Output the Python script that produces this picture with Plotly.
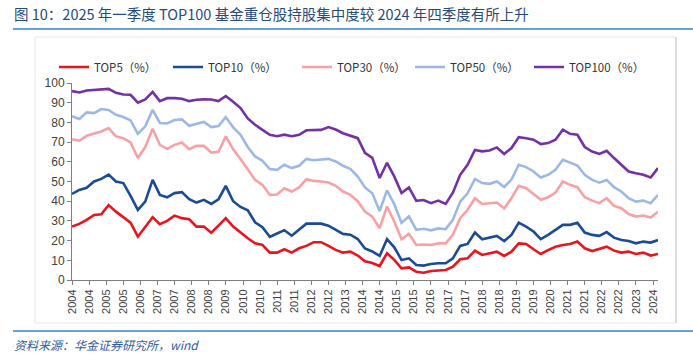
import plotly.graph_objects as go
import pandas as pd

# ---------------- data (quarterly, 2004Q1 - 2024Q1) ----------------
START = "2004-03-31"
N_POINTS = 81

TOP5 = [27.1, 28.5, 30.5, 33.0, 33.4, 38.0, 34.7, 31.7, 29.1, 22.0, 27.1, 31.9, 28.3, 30.0, 32.7, 31.4, 30.8, 27.1, 27.1, 24.0, 27.6,
        31.4, 27.1, 24.0, 21.2, 18.6, 17.8, 13.9, 13.9, 15.6, 13.9, 16.1, 17.3, 19.2, 19.2, 17.3, 15.3, 13.9, 14.4, 12.4, 9.5, 8.6,
        7.1, 13.6, 10.2, 5.9, 6.4, 4.2, 3.7, 4.6, 4.7, 5.1, 6.8, 10.5, 11.0, 14.9, 12.7, 13.6, 14.4, 12.2, 14.4, 18.6,
        18.3, 15.6, 13.2, 15.2, 16.9, 17.8, 18.3, 19.5, 16.1, 14.7, 15.6, 16.9, 14.9, 13.9, 14.4, 13.2, 13.9, 12.4, 13.2]

TOP10 = [43.7, 45.7, 46.8, 50.0, 51.3, 53.5, 50.0, 49.2, 42.7, 35.6, 39.8, 50.8, 43.2, 42.0, 44.1, 44.6, 41.0, 39.3, 40.7, 38.6, 41.0,
         47.8, 40.0, 37.1, 35.4, 29.3, 26.8, 21.9, 23.6, 25.3, 22.5, 25.6, 28.6, 28.6, 28.6, 27.6, 25.6, 23.4, 23.0, 20.8, 16.0, 14.5,
         12.2, 20.7, 16.6, 10.2, 11.0, 7.6, 7.3, 8.1, 8.5, 8.5, 11.0, 17.3, 18.3, 24.1, 20.7, 21.7, 22.4, 19.8, 22.9, 29.1,
         27.1, 24.6, 20.7, 22.9, 25.4, 28.0, 28.0, 29.1, 24.1, 22.9, 22.4, 24.3, 21.5, 20.3, 19.8, 18.6, 19.5, 19.0, 20.3]

TOP30 = [71.5, 70.7, 73.2, 74.2, 75.4, 77.1, 72.9, 72.0, 69.8, 61.9, 67.5, 76.8, 68.6, 66.6, 68.6, 69.8, 66.4, 68.1, 68.1, 64.7,
         65.1, 72.9, 66.4, 61.4, 55.9, 50.8, 48.3, 43.2, 43.4, 46.6, 44.9, 47.0, 51.2, 50.3, 50.0, 49.5, 47.8, 44.9, 43.2,
         40.0, 34.7, 32.2, 26.3, 37.3, 29.7, 20.7, 23.4, 17.8, 18.0, 17.8, 18.6, 18.6, 22.9, 31.4, 35.6, 41.5, 38.6, 39.0, 39.3,
         36.4, 41.5, 47.8,
         46.6, 43.7, 40.7, 42.0, 44.4, 50.0, 48.3, 47.1, 42.0, 40.3, 39.0, 41.5, 37.6, 36.4, 33.5, 32.2, 32.7, 31.7, 34.7]

TOP50 = [83.1, 81.7, 85.1, 84.7, 86.8, 86.3, 83.9, 82.7, 81.0, 74.2, 78.0, 86.4, 79.7, 79.5, 81.2, 81.5, 78.3, 79.2, 80.2, 77.6,
         78.1, 82.7, 77.5, 73.7, 67.5, 62.7, 60.5, 56.3, 55.9, 58.5, 56.8, 58.0, 61.5, 60.8, 61.0, 61.5, 60.2, 58.0, 56.4,
         52.5, 47.0, 44.0, 35.0, 45.5, 38.5, 29.0, 32.3, 25.5, 26.0, 25.2, 26.2, 25.8, 30.5, 39.8, 44.0, 51.3, 49.2, 48.8, 50.0,
         47.2, 51.0, 58.5,
         57.3, 55.1, 52.0, 53.4, 55.9, 61.0, 59.6, 58.1, 53.4, 50.8, 49.4, 50.8, 47.1, 44.9, 41.5, 39.8, 40.3, 39.0, 43.2]

TOP100 = [95.9, 95.2, 96.2, 96.5, 97.0, 97.0, 95.0, 94.2, 94.0, 90.0, 91.7, 95.5, 90.8, 92.3, 92.3, 92.0, 90.8, 91.5, 91.7, 91.6,
          90.8, 93.4, 90.5, 87.3, 82.0, 78.8, 76.2, 73.7, 73.0, 73.8, 73.0, 73.7, 76.0, 76.0, 76.2, 77.6, 76.4, 74.5, 73.2,
          72.0, 64.5, 62.0, 51.8, 59.5, 52.6, 44.2, 47.0, 40.2, 40.6, 39.0, 40.3, 38.6, 44.3, 53.4, 58.5, 66.0, 65.3, 65.7, 67.3,
          64.0, 67.0, 72.5, 72.0, 71.2, 69.0, 69.5, 71.2, 76.3, 74.2, 73.7, 67.5, 65.2, 64.0, 65.6, 61.9, 58.5, 55.1, 54.2, 53.4,
          52.0, 56.8]

SERIES_NAMES = ["TOP5（%）", "TOP10（%）", "TOP30（%）", "TOP50（%）", "TOP100（%）"]
SERIES_COLORS = ["#E8141E", "#1C4B95", "#F8A1A4", "#9DB8E5", "#7431A3"]

TICK_LABELS = ["2004", "2004", "2005", "2005", "2006", "2007", "2007", "2008", "2008", "2009",
               "2010", "2010", "2011", "2011", "2012", "2012", "2013", "2014", "2014", "2015",
               "2015", "2016", "2017", "2017", "2018", "2018", "2019", "2019", "2020", "2021",
               "2021", "2022", "2022", "2023", "2024"]
TICK_STEP_MONTHS = 7

TITLE = "图 10：2025 年一季度 TOP100 基金重仓股持股集中度较 2024 年四季度有所上升"
SOURCE = "资料来源：华金证券研究所，wind"

# ---------------- build ----------------
start = pd.Timestamp(START)
dates = [start + pd.offsets.QuarterEnd(i) for i in range(N_POINTS)]
tickvals = [start + pd.DateOffset(months=TICK_STEP_MONTHS * k) for k in range(len(TICK_LABELS))]

W, H = 693, 356
L, T = 72, 83
R = W - 658
B = H - 280
PW, PH = W - L - R, H - T - B


def px(x):  # page x -> paper x
    return (x - L) / PW


def py(y):  # page y -> paper y
    return (H - B - y) / PH


FONT = "Liberation Sans, Arial, Noto Sans CJK SC, sans-serif"
CJK = "Noto Sans CJK SC, Liberation Sans, sans-serif"

fig = go.Figure()
all_series = [TOP5, TOP10, TOP30, TOP50, TOP100]
legend_x = [64, 178, 307, 420, 539]
for k, (name, vals, col) in enumerate(zip(SERIES_NAMES, all_series, SERIES_COLORS)):
    lg = "legend" if k == 0 else f"legend{k + 1}"
    fig.add_trace(go.Scatter(x=dates, y=vals, mode="lines", name=name,
                             line=dict(color=col, width=2.6), legend=lg))

legend_common = dict(orientation="h", yanchor="middle", xanchor="left", bgcolor="rgba(0,0,0,0)",
                     font=dict(family=CJK, size=11.5, color="#333333"), borderwidth=0)
layout_legends = {}
for k, lx in enumerate(legend_x):
    key = "legend" if k == 0 else f"legend{k + 1}"
    layout_legends[key] = dict(legend_common, x=px(lx - 10), y=py(67))

fig.update_layout(
    width=W, height=H,
    margin=dict(l=L, r=R, t=T, b=B, autoexpand=False),
    paper_bgcolor="white", plot_bgcolor="white",
    showlegend=True,
    font=dict(family=FONT, size=11, color="#404040"),
    xaxis=dict(type="date", range=[dates[0], dates[-1]], tickvals=tickvals, ticktext=TICK_LABELS,
               tickangle=-90, ticks="outside", ticklen=4, tickcolor="#7f7f7f",
               showline=True, linecolor="#7f7f7f", linewidth=1, showgrid=False, zeroline=False,
               tickfont=dict(family=FONT, size=11, color="#404040")),
    yaxis=dict(range=[0, 100], dtick=10, ticks="outside", ticklen=4, tickcolor="#7f7f7f",
               showline=True, linecolor="#7f7f7f", linewidth=1, showgrid=False, zeroline=False,
               tickfont=dict(family=FONT, size=12, color="#404040")),
    **layout_legends,
)

shapes = [
    # chart frame
    dict(type="rect", xref="paper", yref="paper", x0=px(35), x1=px(676), y0=py(323), y1=py(37),
         line=dict(color="#E6E6E6", width=1)),
    dict(type="line", xref="paper", yref="paper", x0=px(676), x1=px(676), y0=py(323), y1=py(37),
         line=dict(color="#C8C8C8", width=1)),
    # title rule
    dict(type="line", xref="paper", yref="paper", x0=px(13), x1=px(693), y0=py(29), y1=py(29),
         line=dict(color="#6A9FD4", width=2)),
    # source rule
    dict(type="line", xref="paper", yref="paper", x0=px(13), x1=px(693), y0=py(331), y1=py(331),
         line=dict(color="#6A9FD4", width=2)),
]
fig.update_layout(shapes=shapes)

fig.add_annotation(text=TITLE, xref="paper", yref="paper", x=px(12), y=py(14), xanchor="left", yanchor="middle",
                   showarrow=False, font=dict(family=CJK, size=14.5, color="#274A7D"))
fig.add_annotation(text="<i>" + SOURCE + "</i>", xref="paper", yref="paper", x=px(12), y=py(344),
                   xanchor="left", yanchor="middle", showarrow=False,
                   font=dict(family=CJK, size=12, color="#2E5C9A"))

# remove the browser's default 8px body margin so the figure sits at the page origin
fig.write_html("out.html", config={"displayModeBar": False},
               post_script="document.body.style.margin='0px';")
